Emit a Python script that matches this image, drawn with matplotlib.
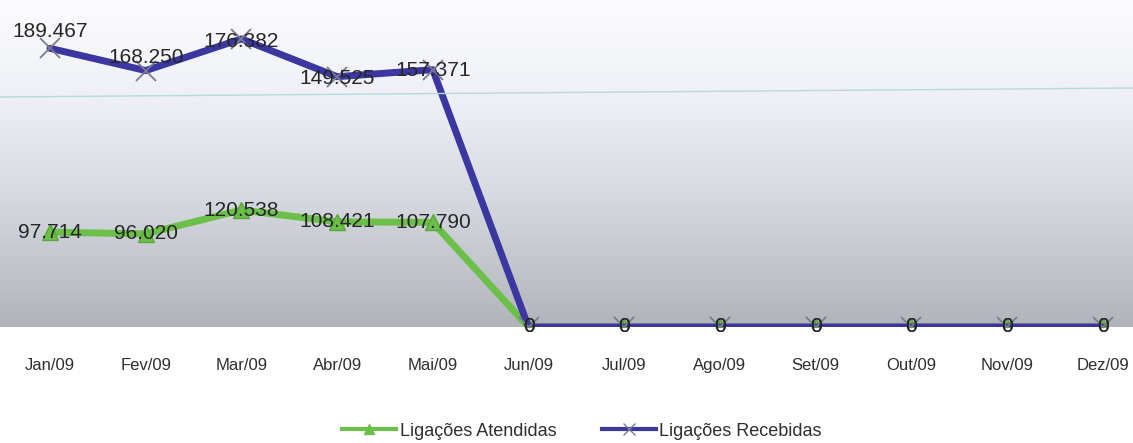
import matplotlib
matplotlib.use("Agg")
import matplotlib.pyplot as plt
import numpy as np
from matplotlib.lines import Line2D

# data (stacked line chart, labels show each series' own value)
meses = ["Jan/09", "Fev/09", "Mar/09", "Abr/09", "Mai/09", "Jun/09",
         "Jul/09", "Ago/09", "Set/09", "Out/09", "Nov/09", "Dez/09"]
atendidas = [97714, 96020, 120538, 108421, 107790, 0, 0, 0, 0, 0, 0, 0]
recebidas = [189467, 168250, 176382, 149525, 157371, 0, 0, 0, 0, 0, 0, 0]

# label nudges in pixels (style only)
nudge_rec = [17, 13, -3, -2, -1, 0, 0, 0, 0, 0, 0, 0]

fam = ["Liberation Sans", "DejaVu Sans"]
plt.rcParams["font.family"] = fam

W, H = 1133, 443
fig = plt.figure(figsize=(W / 100, H / 100), dpi=100)
fig.patch.set_facecolor("white")

ax = fig.add_axes([0, 1 - 327 / H, 1, 327 / H])
ax.set_xlim(-50 / 95.7, (W - 50) / 95.7)
ax.set_ylim(0, 337000)

# gradient plot area
stops = np.array([[252, 252, 254], [238, 240, 246], [215, 217, 224], [178, 180, 188]]) / 255
pos = np.array([0, 0.3, 0.6, 1.0])
t = np.linspace(0, 1, 200)
grad = np.stack([np.interp(t, pos, stops[:, c]) for c in range(3)], axis=1)
ax.imshow(grad[:, None, :], aspect="auto", extent=[*ax.get_xlim(), 0, 337000], zorder=0)

x = np.arange(len(meses))
a = np.array(atendidas)
r = np.array(recebidas)
topo = a + r

ax.plot(x, a, color="#6cc04a", lw=5, marker="^", ms=11, mfc="#6cc04a", mec="#5aa83c",
        zorder=3, solid_capstyle="round")
ax.plot(x, topo, color="#3b36a0", lw=5, zorder=4, solid_capstyle="round")
ax.plot(x, topo, ls="none", marker="x", ms=14, mew=1.3, color="#7a7a90", zorder=5)

for i in range(len(meses)):
    ax.annotate(f"{atendidas[i]:,}".replace(",", "."), (x[i], a[i]), xytext=(0, 0),
                textcoords="offset pixels", ha="center", va="center",
                fontsize=15, color="#262626", zorder=6)
    ax.annotate(f"{recebidas[i]:,}".replace(",", "."), (x[i], topo[i]),
                xytext=(0, nudge_rec[i]), textcoords="offset pixels",
                ha="center", va="center", fontsize=15, color="#262626", zorder=6)

ax.set_xticks(x)
ax.set_xticklabels(meses, fontsize=12, color="#2e2e2e")
ax.tick_params(axis="x", length=0, pad=22)
ax.set_yticks([])
for s in ax.spines.values():
    s.set_visible(False)

# faint scan line across the plot
fig.add_artist(Line2D([0, 1], [1 - 97 / H, 1 - 88 / H], transform=fig.transFigure,
                      color="#b4dcd8", lw=1))

h1 = Line2D([], [], color="#6cc04a", lw=3, marker="^", ms=7, mfc="#6cc04a", mec="#6cc04a")
h2 = Line2D([], [], color="#3b36a0", lw=3, marker="x", ms=8, mew=1, mec="#7a7a90")
fig.legend([h1, h2], ["Ligações Atendidas", "Ligações Recebidas"], loc="center",
           bbox_to_anchor=(582 / W, 1 - 431 / H), ncol=2, frameon=False,
           fontsize=13, handlelength=3.0, handletextpad=0.2, columnspacing=2.5,
           labelcolor="#2e2e2e")

fig.savefig("out.png", dpi=100, facecolor="white")
